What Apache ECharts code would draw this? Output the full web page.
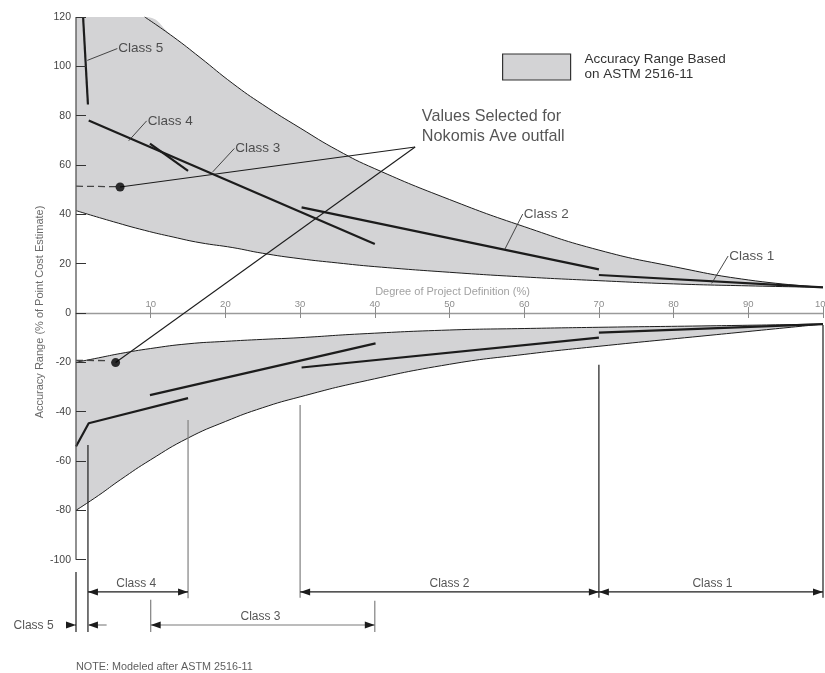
<!DOCTYPE html>
<html>
<head>
<meta charset="utf-8">
<script src="https://cdn.jsdelivr.net/npm/echarts@6/dist/echarts.min.js"></script>
<style>
  html, body { margin: 0; padding: 0; background: #fff; }
  #chart { width: 825px; height: 673px; }
</style>
</head>
<body>
<div id="chart"></div>
<script>
// x = degree of project definition (%), y = accuracy range (% of point cost estimate)
var xTicks = [10, 20, 30, 40, 50, 60, 70, 80, 90, 100];
var yTicks = [-100, -80, -60, -40, -20, 0, 20, 40, 60, 80, 100, 120];
var BAND_NAME = 'Accuracy Range Based\non ASTM 2516-11';

// high side band
var upX  = [0, 5, 9.2, 13, 16.6, 21, 25, 30, 35, 40, 50, 60, 70, 80, 90, 100];
var upHi = [120, 120, 120, 112, 103.6, 93, 84.5, 75, 66, 58.5, 46, 35, 25.5, 18.8, 13.4, 10.4];
var upLo = [41.5, 37, 33.5, 30.8, 28.5, 26.5, 24.2, 22, 20.3, 18.8, 16.5, 14.6, 13.1, 11.8, 11, 10.4];

// low side band
var lowX  = [0, 3, 6, 10, 15, 20, 25, 30, 38, 50, 60, 70, 85, 100];
var lowHi = [-20, -18.2, -16.4, -14.4, -12.5, -11.5, -10.7, -10, -8.5, -6.9, -6.3, -5.8, -5.2, -4.5];
var lowLo = [-80, -74, -67.5, -59.5, -50.7, -44, -38.4, -34, -28, -20.8, -16.8, -13.5, -9, -4.5];

// heavy class lines
var classLines = [
  [[0.95, 120], [1.6, 84.5]],
  [[1.7, 78], [40, 28]],
  [[9.9, 68.7], [15, 57.6]],
  [[30.2, 42.8], [70, 17.7]],
  [[70, 15.4], [100, 10.4]],
  [[0, -54.1], [1.7, -44.7], [15, -34.5]],
  [[9.9, -33.3], [40.1, -12.3]],
  [[30.2, -22.1], [70, -10]],
  [[70, -8], [100, -4.5]]
];

// selected values
var picks = [[5.9, 51.1], [5.3, -20.1]];
var pickDash = [
  [[0, 51.4], [5.9, 51.2]],
  [[0, -19.2], [4.3, -19.3]]
];
var pickHub = [45.4, 67.3];
var pickText = { at: [46.3, 75.6], text: 'Values Selected for\nNokomis Ave outfall' };

// callouts: text anchor -> line end
var callNames = ['Class 5', 'Class 4', 'Class 3', 'Class 2', 'Class 1'];
var callFrom = [[5.53, 107.2], [9.46, 77.9], [21.2, 66.7], [59.8, 40.1], [87.3, 23.1]];
var callTo = [[1.51, 102.4], [7.05, 69.8], [18.3, 57.2], [57.4, 25.8], [85.1, 12]];

// range brackets below the plot
var guideX    = [0, 1.6, 10, 15, 30, 40, 70, 100];
var guideTop  = [-105, -53.5, -116.3, -43.4, -37.3, -116.7, -21, -4.9];
var guideBot  = [-129.3, -129.3, -129.3, -115.7, -115.5, -129.3, -115.5, -115.5];
var guideDark = [true, true, false, false, false, false, true, true];

var spanNames  = ['Class 4', 'Class 3', 'Class 2', 'Class 1'];
var spanFrom   = [1.6, 10, 30, 70];
var spanTo     = [15, 40, 70, 100];
var spanY      = [-113.1, -126.5, -113.1, -113.1];
var spanLabelX = [8.07, 24.7, 50, 85.2];
var spanLabelY = [-109.6, -123.1, -109.6, -109.6];

var c5Arrow = [[-2.4, -126.5], [0, -126.5]];
var c5Back = [[4.1, -126.5], [1.6, -126.5]];
var c5Label = [-3.0, -126.8];

var FONT = 'Liberation Sans, Arial, sans-serif';
var INK = '#1c1c1c';
var Y_MIN = -140, Y_MAX = 120;

function pairs(xs, ys) {
  return xs.map(function (x, i) { return [x, ys[i]]; });
}
// [y, x] rows so that the stack runs on the y column
function stackRows(xs, ys) {
  return xs.map(function (x, i) { return [ys[i], x]; });
}
function gapRows(xs, lo, hi) {
  return xs.map(function (x, i) { return [+(hi[i] - lo[i]).toFixed(2), x]; });
}
function plain(data, color, width, z, type) {
  return {
    type: 'line', data: data, symbol: 'none', silent: true, clip: false, z: z,
    lineStyle: { color: color, width: width, type: type || 'solid' }
  };
}
function band(xs, lo, hi, id) {
  return [
    { type: 'line', stack: id, stackStrategy: 'all', data: stackRows(xs, lo),
      encode: { x: 1, y: 0 }, symbol: 'none', smooth: true, silent: true, z: 1,
      lineStyle: { opacity: 0 } },
    { name: BAND_NAME, type: 'line', stack: id, stackStrategy: 'all', data: gapRows(xs, lo, hi),
      encode: { x: 1, y: 0 }, symbol: 'none', smooth: true, silent: true, z: 1,
      lineStyle: { opacity: 0 }, itemStyle: { color: '#d3d3d5' },
      areaStyle: { color: '#d3d3d5', opacity: 1 } }
  ];
}
function arrowSpan(x1, x2, y, color, heads) {
  var dir = x2 > x1 ? 1 : -1;
  function end(x, at, show) {
    return {
      value: [x, y],
      symbol: show ? 'triangle' : 'none',
      symbolSize: [7, 10],
      symbolRotate: at === 'start' ? (dir > 0 ? 90 : -90) : (dir > 0 ? -90 : 90),
      symbolOffset: at === 'start' ? [5 * dir, 0] : [-5 * dir, 0],
      itemStyle: { color: INK }
    };
  }
  return {
    type: 'line', silent: true, clip: false, z: 4,
    data: [end(x1, 'start', heads === 'both'), end(x2, 'end', true)],
    lineStyle: { color: color, width: 1.2 }
  };
}
function textPoint(pos, text, place, size, color, extra) {
  var lab = { show: true, formatter: text, position: place, distance: 1,
    fontSize: size, color: color, fontFamily: FONT };
  for (var k in extra) lab[k] = extra[k];
  return { value: pos, label: lab };
}

var series = [];
series = series.concat(band(upX, upLo, upHi, 'up'));
series = series.concat(band(lowX, lowLo, lowHi, 'low'));

// band edges
series.push(Object.assign(plain(pairs(upX.slice(2), upHi.slice(2)), INK, 1, 3), { smooth: true }));
series.push(Object.assign(plain(pairs(upX, upLo), INK, 1, 3), { smooth: true }));
series.push(Object.assign(plain(pairs(lowX, lowHi), INK, 1, 3), { smooth: true }));
series.push(Object.assign(plain(pairs(lowX, lowLo), INK, 1, 3), { smooth: true }));

// y axis line
series.push(plain([[0, -100], [0, 120]], '#555', 1.3, 5));

classLines.forEach(function (pts) { series.push(plain(pts, INK, 2.2, 4)); });

pickDash.forEach(function (pts) { series.push(plain(pts, '#444', 1.3, 4, [7, 4])); });
picks.forEach(function (p) { series.push(plain([pickHub, p], INK, 1.1, 4)); });
series.push({ type: 'scatter', data: picks, symbolSize: 9, silent: true, z: 6,
  itemStyle: { color: '#000' } });

callFrom.forEach(function (p, i) { series.push(plain([p, callTo[i]], '#333', 0.9, 4)); });

guideX.forEach(function (x, i) {
  series.push(plain([[x, guideTop[i]], [x, guideBot[i]]], guideDark[i] ? INK : '#808080', 1.2, 4));
});
spanFrom.forEach(function (x, i) {
  series.push(arrowSpan(x, spanTo[i], spanY[i], spanNames[i] === 'Class 3' ? '#7a7a7a' : INK, 'both'));
});
series.push(arrowSpan(c5Arrow[0][0], c5Arrow[1][0], c5Arrow[0][1], INK, 'end'));
series.push(arrowSpan(c5Back[0][0], c5Back[1][0], c5Back[0][1], '#888', 'end'));

// all text
var texts = [];
callNames.forEach(function (t, i) { texts.push(textPoint(callFrom[i], t, 'right', 13.5, '#2a2a2a')); });
texts.push(textPoint(pickText.at, pickText.text, 'right', 16.2, '#2a2a2a', { lineHeight: 20, distance: 0 }));
spanNames.forEach(function (t, i) {
  texts.push(textPoint([spanLabelX[i], spanLabelY[i]], t, 'inside', 12, '#2a2a2a'));
});
texts.push(textPoint(c5Label, 'Class 5', 'left', 12, '#2a2a2a', { distance: 0 }));
texts.push(textPoint([50.4, 8.6], 'Degree of Project Definition (%)', 'inside', 11, '#8a8a8a'));
texts.push(textPoint([-4.8, 0.4], 'Accuracy Range (% of Point Cost Estimate)', 'inside', 11, '#444', { rotate: 90 }));
texts.push(textPoint([0, -143.4], 'NOTE: Modeled after ASTM 2516-11', 'right', 10.8, '#333', { distance: 0 }));
series.push({ type: 'scatter', data: texts, symbolSize: 0, silent: true, clip: false, z: 7 });

var chart = echarts.init(document.getElementById('chart'));
chart.setOption({
  animation: false,
  textStyle: { fontFamily: FONT },
  grid: { left: 76, right: 2, top: 17, bottom: 14.7, outerBoundsMode: 'none', containLabel: false },
  legend: {
    left: 497, top: 47, itemWidth: 68, itemHeight: 26, selectedMode: false,
    data: [{ name: BAND_NAME, icon: 'rect',
      itemStyle: { color: '#d3d3d5', borderColor: '#333', borderWidth: 1.2 } }],
    textStyle: { fontSize: 13.5, lineHeight: 15, color: '#333', padding: [0, 0, 0, 9], fontFamily: FONT }
  },
  xAxis: [
    // upper half of the ticks, line and labels
    { type: 'value', min: 0, max: 100, interval: 10, position: 'bottom',
      axisLine: { onZero: false, lineStyle: { color: '#9a9a9a', width: 1.3 } },
      axisTick: { inside: true, length: 6, customValues: xTicks, lineStyle: { color: '#8a8a8a' } },
      axisLabel: { inside: true, margin: 4, customValues: xTicks, color: '#8d8d8d', fontSize: 9.5,
        hideOverlap: false },
      splitLine: { show: false } },
    // lower half of the ticks
    { type: 'value', min: 0, max: 100, interval: 10, position: 'bottom',
      axisLine: { show: false, onZero: false },
      axisTick: { length: 5, customValues: xTicks, lineStyle: { color: '#8a8a8a' } },
      axisLabel: { show: false }, splitLine: { show: false } }
  ],
  yAxis: {
    type: 'value', min: Y_MIN, max: Y_MAX, interval: 20, z: 6,
    axisLine: { show: false, onZero: false },
    axisTick: { inside: true, length: 10, customValues: yTicks, lineStyle: { color: '#333' } },
    axisLabel: { margin: 5, customValues: yTicks, color: '#444', fontSize: 10.5 },
    splitLine: { show: false }
  },
  series: series
});

// move both x axes from the grid bottom up to y = 0
var shift = chart.convertToPixel({ yAxisIndex: 0 }, 0) - chart.convertToPixel({ yAxisIndex: 0 }, Y_MIN);
chart.setOption({ xAxis: [{ offset: shift }, { offset: shift }] });
</script>
</body>
</html>
